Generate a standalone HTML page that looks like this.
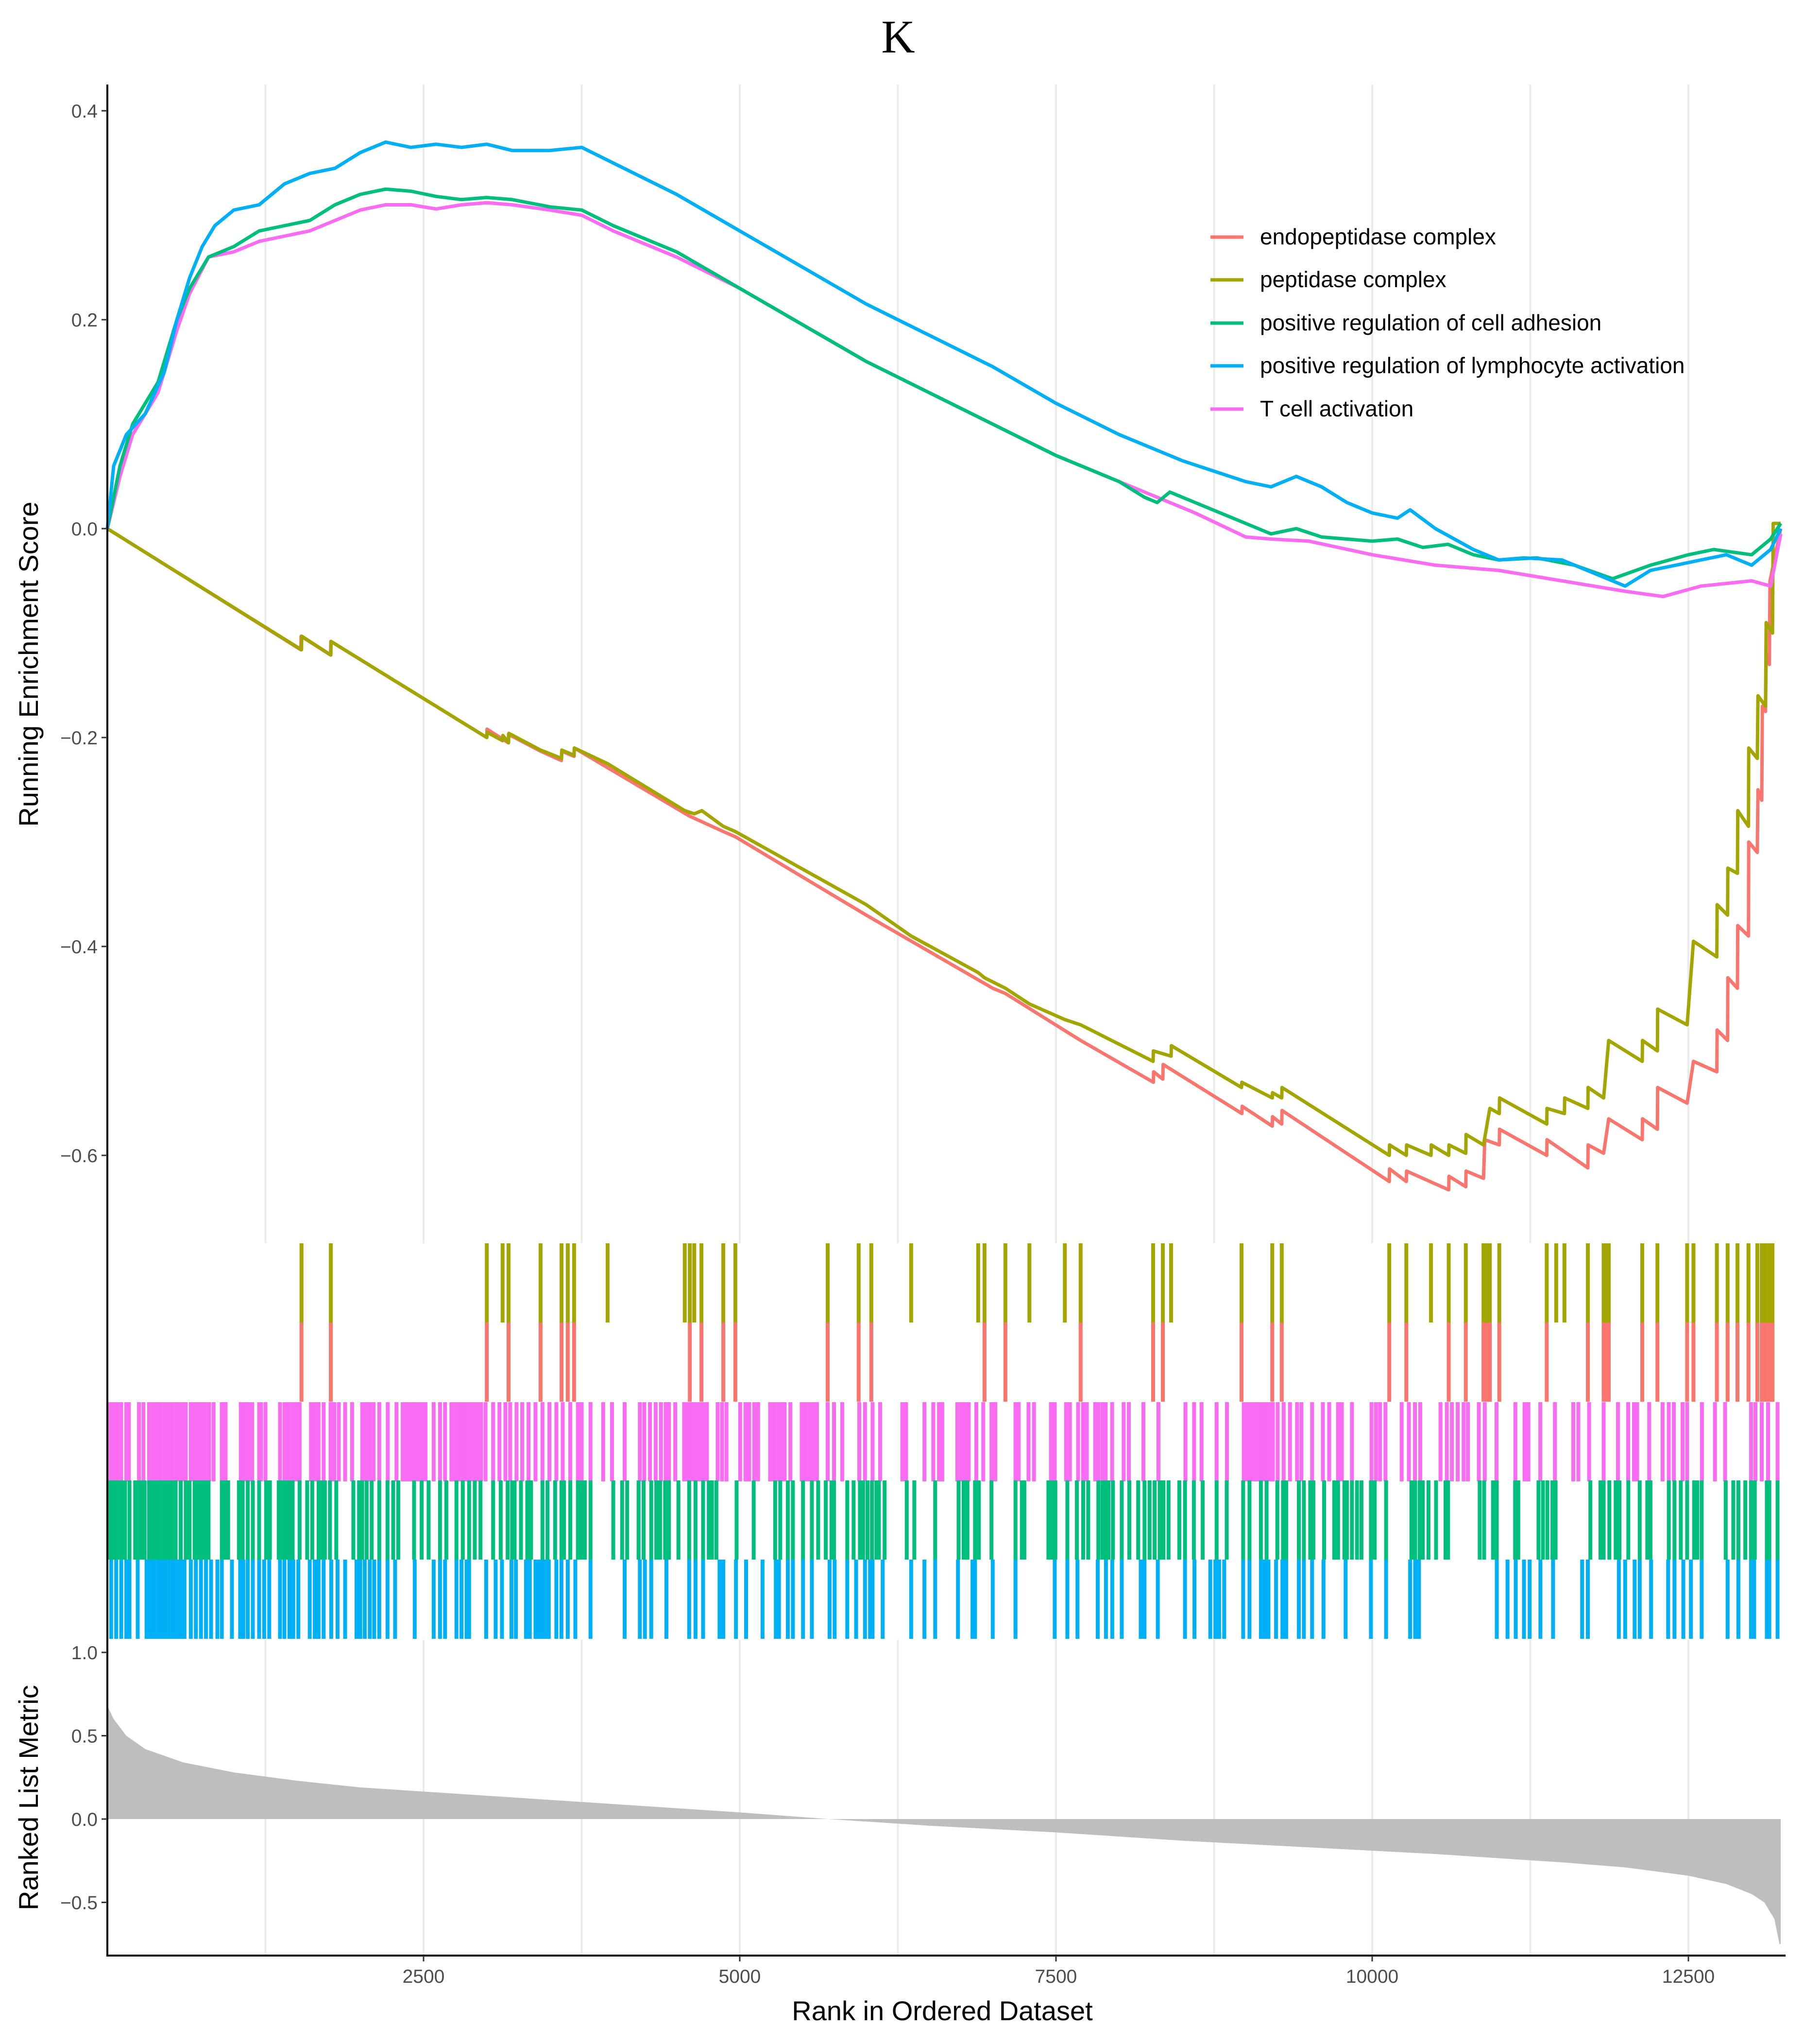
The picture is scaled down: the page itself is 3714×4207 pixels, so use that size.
<!DOCTYPE html>
<html><head><meta charset="utf-8"><style>
html,body{margin:0;padding:0;background:#fff;}
svg{display:block;font-family:"Liberation Sans",Arial,sans-serif;}
</style></head><body>
<svg id="chart" width="3714" height="4207" viewBox="0 0 3714 4207" xmlns="http://www.w3.org/2000/svg">
<text x="1849" y="108" text-anchor="middle" font-family="Liberation Serif,serif" font-size="96">K</text>
<g id="grid"></g>
<g id="rug"></g>
<g id="metric"></g>
<g id="curves"></g>
<g id="axes"></g>
<text transform="translate(78,1367) rotate(-90)" text-anchor="middle" font-size="56">Running Enrichment Score</text>
<text transform="translate(78,3700) rotate(-90)" text-anchor="middle" font-size="56">Ranked List Metric</text>
<text x="1940" y="4158" text-anchor="middle" font-size="56">Rank in Ordered Dataset</text>
<g id="legend"></g>
</svg>
<script>
const seriesNames = ["endopeptidase complex","peptidase complex","positive regulation of cell adhesion","positive regulation of lymphocyte activation","T cell activation"];
const seriesColors = ["#F8766D","#A3A500","#00BF7D","#00B0F6","#F96BF3"];
const xTicks = [2500,5000,7500,10000,12500];
const xGrid = [1250,2500,3750,5000,6250,7500,8750,10000,11250,12500];
const esTicks = [0.4,0.2,0.0,-0.2,-0.4,-0.6];
const esTickLabels = ["0.4","0.2","0.0","\u22120.2","\u22120.4","\u22120.6"];
const metricTicks = [1.0,0.5,0.0,-0.5];
const metricTickLabels = ["1.0","0.5","0.0","\u22120.5"];

const esEndo = [[0,0],[1530,-0.116],[1532,-0.103],[1765,-0.121],[1767,-0.108],[3000,-0.2],[3002,-0.192],[3170,-0.205],[3172,-0.197],[3425,-0.213],[3590,-0.222],[3592,-0.213],[3690,-0.218],[3692,-0.21],[4600,-0.275],[4870,-0.29],[4965,-0.295],[6000,-0.37],[7000,-0.44],[7100,-0.445],[7695,-0.49],[8270,-0.53],[8272,-0.52],[8345,-0.527],[8347,-0.513],[8970,-0.56],[8972,-0.553],[9210,-0.572],[9212,-0.563],[9285,-0.57],[9287,-0.557],[10135,-0.625],[10137,-0.613],[10270,-0.625],[10272,-0.615],[10605,-0.633],[10607,-0.62],[10740,-0.63],[10742,-0.615],[10880,-0.622],[10890,-0.585],[11005,-0.59],[11007,-0.575],[11380,-0.6],[11382,-0.585],[11705,-0.612],[11707,-0.59],[11830,-0.598],[11870,-0.565],[12135,-0.585],[12137,-0.565],[12255,-0.575],[12257,-0.535],[12490,-0.55],[12540,-0.51],[12725,-0.52],[12727,-0.48],[12810,-0.49],[12812,-0.43],[12888,-0.44],[12890,-0.38],[12975,-0.39],[12977,-0.3],[13045,-0.31],[13050,-0.25],[13080,-0.26],[13085,-0.17],[13110,-0.175],[13115,-0.12],[13140,-0.13],[13145,-0.05],[13230,0]];
const esPept = [[0,0],[1535,-0.116],[1537,-0.103],[1767,-0.121],[1769,-0.108],[3000,-0.2],[3002,-0.195],[3125,-0.203],[3127,-0.198],[3172,-0.205],[3174,-0.196],[3425,-0.212],[3591,-0.22],[3593,-0.212],[3690,-0.217],[3692,-0.21],[3955,-0.225],[4565,-0.27],[4640,-0.273],[4700,-0.27],[4870,-0.285],[4965,-0.29],[6000,-0.36],[6355,-0.39],[6885,-0.425],[6935,-0.43],[7100,-0.44],[7290,-0.455],[7570,-0.47],[7695,-0.475],[8268,-0.51],[8270,-0.5],[8410,-0.505],[8412,-0.495],[8967,-0.535],[8969,-0.53],[9210,-0.545],[9212,-0.54],[9285,-0.545],[9287,-0.535],[10135,-0.6],[10137,-0.59],[10270,-0.6],[10272,-0.59],[10465,-0.6],[10467,-0.59],[10605,-0.6],[10607,-0.59],[10740,-0.598],[10742,-0.58],[10880,-0.59],[10930,-0.555],[11005,-0.56],[11007,-0.545],[11380,-0.57],[11382,-0.555],[11520,-0.56],[11522,-0.545],[11705,-0.555],[11707,-0.535],[11830,-0.545],[11870,-0.49],[12135,-0.51],[12137,-0.49],[12255,-0.5],[12257,-0.46],[12490,-0.475],[12540,-0.395],[12725,-0.41],[12727,-0.36],[12810,-0.37],[12812,-0.325],[12888,-0.33],[12890,-0.27],[12975,-0.285],[12977,-0.21],[13045,-0.22],[13050,-0.16],[13110,-0.17],[13115,-0.09],[13165,-0.1],[13170,0.005],[13230,0.005]];
const esAdh = [[0,0],[100,0.06],[200,0.1],[400,0.14],[550,0.2],[650,0.23],[800,0.26],[1000,0.27],[1200,0.285],[1400,0.29],[1600,0.295],[1800,0.31],[2000,0.32],[2200,0.325],[2400,0.323],[2600,0.318],[2800,0.315],[3000,0.317],[3200,0.315],[3500,0.308],[3750,0.305],[4000,0.29],[4500,0.265],[5000,0.23],[5500,0.195],[6000,0.16],[6500,0.13],[7000,0.1],[7500,0.07],[8000,0.045],[8200,0.03],[8300,0.025],[8400,0.035],[8600,0.025],[9000,0.005],[9200,-0.005],[9400,0.0],[9600,-0.008],[10000,-0.012],[10200,-0.01],[10400,-0.018],[10600,-0.015],[10800,-0.025],[11000,-0.03],[11300,-0.028],[11600,-0.035],[11900,-0.048],[12200,-0.035],[12500,-0.025],[12700,-0.02],[13000,-0.025],[13150,-0.01],[13230,0.005]];
const esLymph = [[0,0],[50,0.06],[150,0.09],[300,0.11],[450,0.15],[550,0.2],[650,0.24],[750,0.27],[850,0.29],[1000,0.305],[1200,0.31],[1400,0.33],[1600,0.34],[1800,0.345],[2000,0.36],[2200,0.37],[2400,0.365],[2600,0.368],[2800,0.365],[3000,0.368],[3200,0.362],[3500,0.362],[3750,0.365],[4000,0.35],[4500,0.32],[5000,0.285],[5500,0.25],[6000,0.215],[6500,0.185],[7000,0.155],[7500,0.12],[8000,0.09],[8500,0.065],[9000,0.045],[9200,0.04],[9400,0.05],[9600,0.04],[9800,0.025],[10000,0.015],[10200,0.01],[10300,0.018],[10500,0],[10800,-0.02],[11000,-0.03],[11200,-0.028],[11500,-0.03],[11800,-0.045],[12000,-0.055],[12200,-0.04],[12400,-0.035],[12600,-0.03],[12800,-0.025],[13000,-0.035],[13150,-0.02],[13230,0]];
const esTcell = [[0,0],[100,0.05],[200,0.09],[400,0.13],[550,0.19],[650,0.225],[800,0.26],[1000,0.265],[1200,0.275],[1400,0.28],[1600,0.285],[1800,0.295],[2000,0.305],[2200,0.31],[2400,0.31],[2600,0.306],[2800,0.31],[3000,0.312],[3200,0.31],[3500,0.305],[3750,0.3],[4000,0.285],[4500,0.26],[5000,0.23],[5500,0.195],[6000,0.16],[6500,0.13],[7000,0.1],[7500,0.07],[8000,0.045],[8300,0.03],[8600,0.015],[9000,-0.008],[9200,-0.01],[9500,-0.012],[10000,-0.025],[10500,-0.035],[11000,-0.04],[11500,-0.05],[12000,-0.06],[12300,-0.065],[12600,-0.055],[13000,-0.05],[13150,-0.055],[13230,-0.005]];

const hitsPept = [1535,1767,3000,3125,3172,3425,3591,3640,3690,3955,4565,4605,4640,4697,4870,4965,5695,5940,6040,6355,6885,6935,7100,7290,7570,7695,8268,8345,8410,8967,9210,9285,10135,10270,10465,10605,10740,10880,10910,10930,11005,11380,11455,11520,11705,11830,11850,11870,12135,12255,12490,12540,12725,12810,12888,12975,13045,13080,13110,13140,13165];
const hitsEndo = [1535,1767,3000,3172,3425,3591,3640,3690,4605,4697,4870,4965,5695,5940,6040,6935,7100,7695,8268,8345,8967,9210,9285,10135,10270,10605,10740,10880,10910,10930,11005,11380,11705,11830,11850,11870,12135,12255,12490,12540,12725,12810,12888,12975,13045,13080,13110,13140,13165];
const hitsTcell = [20,50,80,110,150,170,250,285,330,360,390,420,450,480,510,540,570,600,620,660,680,700,720,745,775,805,840,905,935,1055,1085,1115,1145,1200,1215,1250,1365,1400,1430,1460,1490,1520,1610,1640,1670,1710,1765,1795,1830,1880,1935,2015,2045,2075,2105,2150,2217,2286,2335,2365,2395,2425,2455,2485,2515,2580,2630,2670,2720,2750,2780,2810,2840,2870,2900,2930,2955,2990,3050,3100,3147,3185,3235,3280,3330,3385,3440,3495,3550,3600,3660,3720,3750,3820,3920,3990,4090,4210,4245,4290,4335,4377,4415,4440,4490,4560,4590,4620,4650,4680,4710,4740,4825,4860,4895,5003,5045,5075,5115,5145,5240,5270,5300,5330,5355,5400,5490,5520,5550,5580,5610,5695,5745,5810,5945,5990,6050,6110,6285,6315,6460,6530,6575,6601,6720,6750,6780,6810,6870,6925,6990,7020,7180,7205,7283,7326,7460,7490,7580,7610,7675,7714,7744,7810,7835,7867,7893,7944,8035,8076,8191,8310,8524,8592,8651,8770,8852,8985,9015,9045,9075,9105,9135,9165,9195,9215,9253,9300,9350,9406,9440,9525,9610,9660,9730,9760,9840,9995,10030,10062,10105,10233,10290,10338,10380,10540,10590,10630,10676,10723,10757,10843,10890,10983,11132,11205,11235,11329,11445,11590,11630,11715,11830,11943,12024,12070,12095,12190,12296,12345,12385,12454,12490,12607,12710,12790,12995,13030,13080,13130,13205];
const hitsAdh = [20,50,80,110,140,175,220,250,265,295,330,360,390,420,450,480,510,540,580,620,650,690,715,745,770,800,905,935,955,1040,1070,1110,1150,1200,1255,1285,1355,1385,1415,1435,1465,1520,1580,1620,1670,1700,1720,1760,1810,1945,1990,2015,2050,2090,2150,2215,2260,2300,2425,2485,2540,2630,2680,2760,2810,2860,2905,2950,3050,3110,3165,3200,3220,3270,3320,3350,3440,3480,3540,3590,3610,3660,3720,3745,3775,3820,4000,4070,4110,4200,4240,4300,4340,4370,4410,4440,4515,4600,4650,4710,4755,4780,4815,4975,5110,5280,5320,5380,5420,5500,5570,5620,5680,5725,5745,5850,5900,5950,5975,6010,6045,6080,6100,6145,6320,6380,6545,6730,6770,6800,6860,6890,6990,7180,7230,7250,7440,7470,7495,7590,7665,7715,7755,7835,7867,7895,7915,7950,8020,8080,8150,8200,8240,8280,8320,8350,8390,8475,8520,8590,8660,8770,8850,8980,9030,9120,9165,9250,9295,9320,9420,9460,9510,9535,9620,9700,9730,9780,9800,9840,9880,9915,9990,10020,10110,10310,10340,10375,10400,10445,10505,10580,10600,10850,10885,10955,10985,11130,11155,11315,11350,11385,11425,11450,11725,11805,11830,11875,11925,11955,12025,12115,12175,12200,12345,12390,12440,12490,12545,12570,12605,12795,12855,12895,12950,12995,13025,13120,13140,13205];
const hitsLymph = [30,70,110,150,175,240,310,340,370,400,430,460,490,520,550,580,610,660,700,740,780,820,870,905,985,1050,1075,1110,1150,1200,1240,1280,1365,1400,1440,1470,1510,1600,1640,1670,1710,1770,1820,1880,1970,2000,2035,2075,2110,2150,2215,2275,2430,2580,2630,2670,2760,2800,2840,2860,2995,3070,3120,3195,3230,3310,3340,3385,3410,3440,3460,3490,3550,3590,3640,3700,3820,4090,4210,4250,4300,4420,4600,4650,4710,4840,4870,4970,5050,5180,5285,5310,5380,5420,5500,5570,5710,5750,5850,5920,5990,6030,6050,6130,6355,6460,6545,6725,6840,6860,7000,7180,7490,7590,7670,7830,7895,7945,8020,8170,8200,8305,8520,8595,8720,8760,8790,8830,8980,9030,9120,9150,9180,9240,9290,9320,9420,9460,9525,9615,9790,9990,10110,10300,10340,10370,10985,11070,11135,11200,11245,11330,11430,11660,11705,11950,12000,12075,12115,12205,12340,12390,12460,12520,12605,12810,12895,12995,13020,13120,13140,13205];

const metricRanks = [0,50,150,300,600,1000,1500,2000,3000,4000,5000,5700,6500,7500,8500,9500,10500,11500,12000,12500,12800,13000,13100,13180,13220];
const metricValues = [0.68,0.6,0.5,0.42,0.34,0.28,0.23,0.19,0.14,0.09,0.04,0,-0.04,-0.08,-0.13,-0.17,-0.21,-0.26,-0.29,-0.34,-0.39,-0.45,-0.5,-0.6,-0.75];

const NS = "http://www.w3.org/2000/svg";
const X0 = 221, PX_PER_RANK = 651/2500, XMAX = 13230;
const xs = r => X0 + r * PX_PER_RANK;
const yES = v => 1088 - v * 2150;
const yM = v => 3744 - v * 343;
const TOP_Y0 = 174, TOP_Y1 = 2559, BOT_Y0 = 3375, BOT_Y1 = 4025;
const rugTops = [2559, 2722, 2886, 3047, 3210];
const RUG_H = 163;
function mk(tag, attrs, parent){const e=document.createElementNS(NS,tag);for(const k in attrs)e.setAttribute(k,attrs[k]);parent.appendChild(e);return e;}

const grid = document.getElementById('grid');
xGrid.forEach(r => {
  const a = mk('line',{x1:xs(r),x2:xs(r),y1:TOP_Y0,y2:TOP_Y1,stroke:'#ebebeb','stroke-width':4},grid);
  
  
  const b = mk('line',{x1:xs(r),x2:xs(r),y1:BOT_Y0,y2:BOT_Y1,stroke:'#ebebeb','stroke-width':4},grid);
  
  
});

const rug = document.getElementById('rug');
const rugRows = [[hitsPept,1],[hitsEndo,0],[hitsTcell,4],[hitsAdh,2],[hitsLymph,3]];
rugRows.forEach((row,i) => {
  row[0].forEach(r => {
    const l = mk('rect',{x:xs(r)-4,y:rugTops[i],width:8,height:RUG_H,fill:seriesColors[row[1]]},rug);
    
    
  });
});

const metric = document.getElementById('metric');
let pts = [[xs(0),yM(0)]];
metricRanks.forEach((r,i)=>pts.push([xs(r),yM(metricValues[i])]));
pts.push([xs(XMAX),yM(metricValues[metricValues.length-1])]);
pts.push([xs(XMAX),yM(0)]);
const area = mk('polygon',{points:pts.map(p=>p.join(',')).join(' '),fill:'#bebebe'},metric);



const curves = document.getElementById('curves');
const curveData = [[esEndo,0],[esPept,1],[esTcell,4],[esAdh,2],[esLymph,3]];
const curveNames = ['curve-endopeptidase','curve-peptidase','curve-t-cell','curve-cell-adhesion','curve-lymphocyte'];
curveData.forEach((c,i) => {
  const d = c[0].map((p,j)=>(j?'L':'M')+xs(p[0]).toFixed(1)+','+yES(p[1]).toFixed(1)).join(' ');
  const p = mk('path',{d:d,fill:'none',stroke:seriesColors[c[1]],'stroke-width':7,'stroke-linejoin':'round'},curves);
  
  
});

const axes = document.getElementById('axes');
mk('line',{x1:X0,x2:X0,y1:TOP_Y0,y2:BOT_Y1,stroke:'#000','stroke-width':4},axes);
mk('line',{x1:X0-2,x2:xs(XMAX)+10,y1:BOT_Y1,y2:BOT_Y1,stroke:'#000','stroke-width':4},axes);
esTicks.forEach((v,i)=>{
  mk('line',{x1:X0-12,x2:X0,y1:yES(v),y2:yES(v),stroke:'#333','stroke-width':3},axes);
  const t = mk('text',{x:X0-20,y:yES(v)+14,'text-anchor':'end','font-size':39,fill:'#4d4d4d'},axes);
  t.textContent = esTickLabels[i];
  
  
});
metricTicks.forEach((v,i)=>{
  mk('line',{x1:X0-12,x2:X0,y1:yM(v),y2:yM(v),stroke:'#333','stroke-width':3},axes);
  const t = mk('text',{x:X0-20,y:yM(v)+14,'text-anchor':'end','font-size':39,fill:'#4d4d4d'},axes);
  t.textContent = metricTickLabels[i];
  
  
});
xTicks.forEach(r=>{
  mk('line',{x1:xs(r),x2:xs(r),y1:BOT_Y1,y2:BOT_Y1+12,stroke:'#333','stroke-width':3},axes);
  const t = mk('text',{x:xs(r),y:BOT_Y1+56,'text-anchor':'middle','font-size':39,fill:'#4d4d4d'},axes);
  t.textContent = r;
  
  
});

const legend = document.getElementById('legend');
const legendY = [488,576,665,753,842];
seriesNames.forEach((n,i)=>{
  const l = mk('line',{x1:2492,x2:2560,y1:legendY[i],y2:legendY[i],stroke:seriesColors[i],'stroke-width':7},legend);
  
  
  const t = mk('text',{x:2594,y:legendY[i]+15,'font-size':46,fill:'#000'},legend);
  t.textContent = n;
  
  
});
</script>
</body></html>
